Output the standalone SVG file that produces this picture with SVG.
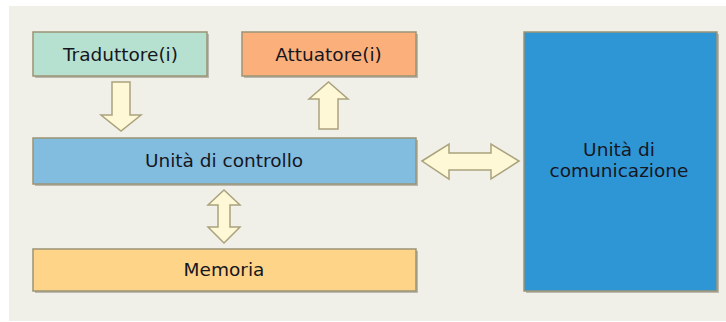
<svg xmlns="http://www.w3.org/2000/svg" width="726" height="322" viewBox="0 0 726 322">
  <style>
    .box { stroke: #9b9474; stroke-width: 1.5; }
    .shadow { fill: #8f8c80; opacity: 0.55; }
    .arrow { fill: #fff8d6; stroke: #aaa27c; stroke-width: 1.5; stroke-linejoin: miter; }
    .label { font-family: "DejaVu Sans", Verdana, sans-serif; font-size: 18.5px; fill: #16161e; text-anchor: middle; }
  </style>

  <!-- panel background -->
  <rect x="0" y="0" width="726" height="322" fill="#ffffff"/>
  <rect x="9" y="6" width="717" height="315" fill="#f0efe8"/>

  <g id="traduttore">
    <rect class="shadow" x="35" y="34" width="174" height="44"/>
    <rect class="box" x="33" y="32" width="174" height="44" fill="#b6e0cf"/>
    <text class="label" x="120.5" y="61">Traduttore(i)</text>
  </g>

  <g id="attuatore">
    <rect class="shadow" x="244" y="34" width="174" height="44"/>
    <rect class="box" x="242" y="32" width="174" height="44" fill="#fbb07c"/>
    <text class="label" x="328.5" y="61">Attuatore(i)</text>
  </g>

  <g id="controllo">
    <rect class="shadow" x="35" y="140" width="383" height="46"/>
    <rect class="box" x="33" y="138" width="383" height="46" fill="#82bddf"/>
    <text class="label" x="224" y="167">Unità di controllo</text>
  </g>

  <g id="memoria">
    <rect class="shadow" x="35" y="251" width="383" height="42"/>
    <rect class="box" x="33" y="249" width="383" height="42" fill="#fdd488"/>
    <text class="label" x="224" y="276">Memoria</text>
  </g>

  <g id="comunicazione">
    <rect class="shadow" x="526" y="34" width="193" height="259"/>
    <rect class="box" x="524" y="32" width="193" height="259" fill="#2f96d6"/>
    <text class="label" x="619" y="156">Unità di</text>
    <text class="label" x="619" y="177">comunicazione</text>
  </g>

  <g id="connectors">
    <!-- Traduttore -> controllo -->
    <path class="arrow" d="M112,82 H130 V115 H141 L121,131 L101,115 H112 Z"/>
    <!-- controllo -> Attuatore -->
    <path class="arrow" d="M319,129 V99 H309 L328.5,82 L348,99 H338 V129 Z"/>
    <!-- controllo <-> memoria -->
    <path class="arrow" d="M224,190 L240,205 H230 V227 H240 L224,243 L208,227 H218 V205 H208 Z"/>
    <!-- controllo <-> comunicazione -->
    <path class="arrow" d="M422,161 L449,144 V153 H491 V144 L519,161 L491,179 V170 H449 V179 Z"/>
  </g>
</svg>
